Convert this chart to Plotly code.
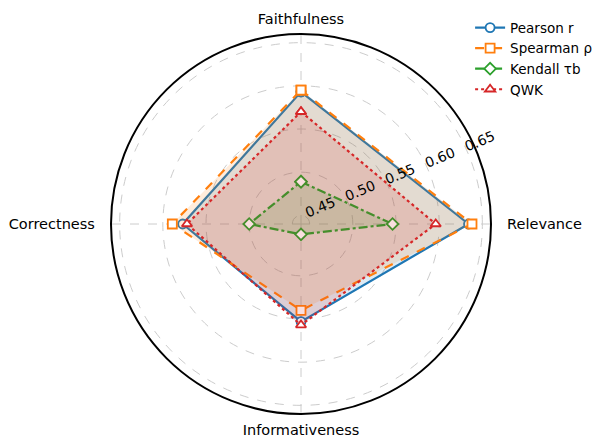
import plotly.graph_objects as go

categories = ["Faithfulness", "Relevance", "Informativeness", "Correctness"]
series_names = ["Pearson r", "Spearman ρ", "Kendall τb", "QWK"]
pearson = [0.593, 0.634, 0.553, 0.577]
spearman = [0.595, 0.638, 0.540, 0.589]
kendall = [0.489, 0.546, 0.452, 0.500]
qwk = [0.570, 0.596, 0.557, 0.572]
radial_ticks = [0.45, 0.50, 0.55, 0.60, 0.65]

values = [pearson, spearman, kendall, qwk]
colors = ["31,119,180", "255,127,14", "44,160,44", "214,39,40"]
dashes = ["solid", "dash", "dashdot", "dot"]
symbols = ["circle", "square", "diamond", "triangle-up"]

fig = go.Figure()
for name, vals, c, d, s in zip(series_names, values, colors, dashes, symbols):
    line = dict(color=f"rgb({c})", width=2.2, dash=d)
    marker = dict(symbol=s, size=9, color="white",
                  line=dict(color=f"rgb({c})", width=1.8))
    fig.add_trace(go.Scatterpolar(
        r=vals + vals[:1],
        theta=categories + categories[:1],
        mode="lines+markers",
        name=name,
        legendgroup=name,
        showlegend=False,
        fill="toself",
        fillcolor=f"rgba({c},0.15)",
        line=line,
        marker=marker,
    ))
    # legend entry (line + marker only, no fill swatch)
    fig.add_trace(go.Scatterpolar(
        r=[None], theta=[None], mode="lines+markers", name=name,
        legendgroup=name, line=line, marker=marker,
    ))

nb = "\u00a0"
angular_text = [categories[0], nb * 2 + categories[1], categories[2], categories[3] + nb * 2]
pad = nb * 7
fig.update_layout(
    width=594, height=437,
    margin=dict(l=111, r=103, t=34, b=23, autoexpand=False),
    paper_bgcolor="white",
    font=dict(family="DejaVu Sans", size=14.5, color="black"),
    polar=dict(
        bgcolor="white",
        domain=dict(x=[0, 1], y=[0, 1]),
        angularaxis=dict(
            direction="clockwise", rotation=90,
            showline=True, linecolor="black", linewidth=2,
            gridcolor="#cccccc", griddash="dash", gridwidth=0.8,
            ticks="outside", ticklen=3, tickcolor="rgba(0,0,0,0)",
            tickvals=categories, ticktext=angular_text,
            tickfont=dict(size=14.5),
        ),
        radialaxis=dict(
            range=[0.44, 0.66], tickvals=radial_ticks,
            ticktext=[pad + f"{v:.2f}" for v in radial_ticks],
            angle=22.5, side="counterclockwise", tickangle=0,
            showline=False, ticks="",
            gridcolor="#cccccc", griddash="dash", gridwidth=0.8,
            tickfont=dict(size=14),
        ),
    ),
    legend=dict(
        x=0.945, y=1.057, xanchor="left", yanchor="top",
        bgcolor="rgba(0,0,0,0)", font=dict(size=13.5),
        tracegroupgap=0,
    ),
)

fig.write_html(
    "out.html",
    config={"displayModeBar": False},
    post_script="document.body.style.margin='0';document.body.style.overflow='hidden';",
)
